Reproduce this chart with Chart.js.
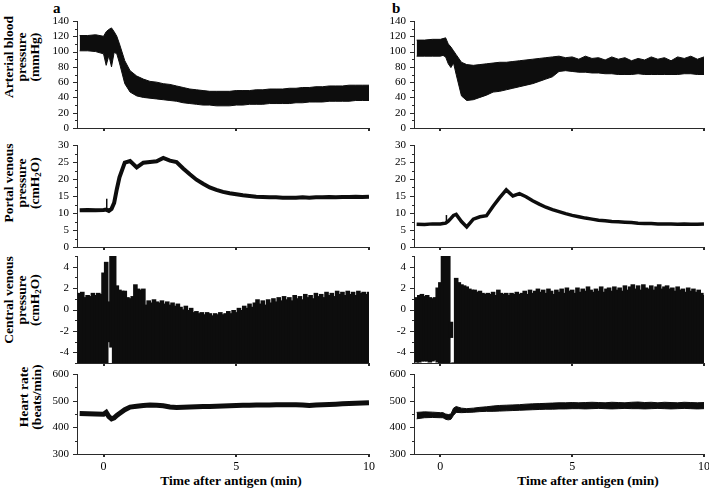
<!DOCTYPE html>
<html>
<head>
<meta charset="utf-8">
<script src="https://cdn.jsdelivr.net/npm/chart.js@4/dist/chart.umd.min.js"></script>
<style>
  html, body { margin: 0; padding: 0; background: #fff; }
  body { position: relative; width: 709px; height: 489px; overflow: hidden; font-family: "Liberation Serif", "Times New Roman", serif; color: #000; }
  canvas { position: absolute; }
  .ytitle { position: absolute; transform: translate(-50%, -50%) rotate(-90deg); text-align: center; font-weight: bold; font-size: 13.5px; line-height: 13px; white-space: nowrap; }
  .ytitle sub { font-size: 9px; line-height: 0; vertical-align: -2px; }
  .panel-label { position: absolute; font-weight: bold; font-size: 15px; line-height: 15px; }
  .xtitle { position: absolute; transform: translateX(-50%); font-weight: bold; font-size: 13.5px; white-space: nowrap; }
</style>
</head>
<body>

<div class="panel-label" style="left:53px;top:1px;">a</div>
<div class="panel-label" style="left:392px;top:1px;">b</div>

<div class="ytitle" style="left:21px;top:57px;">Arterial blood<br>pressure<br>(mmHg)</div>
<div class="ytitle" style="left:21px;top:183px;">Portal venous<br>pressure<br>(cmH<sub>2</sub>O)</div>
<div class="ytitle" style="left:21px;top:300px;">Central venous<br>pressure<br>(cmH<sub>2</sub>O)</div>
<div class="ytitle" style="left:30px;top:397px;">Heart rate<br>(beats/min)</div>

<div class="xtitle" style="left:231px;top:473px;">Time after antigen (min)</div>
<div class="xtitle" style="left:588px;top:473px;">Time after antigen (min)</div>

<script>
// --- sample times (min after antigen) ---
const tMain = [-0.9, -0.6, -0.3, 0, 0.1, 0.2, 0.3, 0.4, 0.5, 0.6, 0.8,
  1, 1.25, 1.5, 1.75, 2, 2.25, 2.5, 2.75, 3, 3.25, 3.5, 3.75, 4, 4.25, 4.5, 4.75,
  5, 5.25, 5.5, 5.75, 6, 6.25, 6.5, 6.75, 7, 7.25, 7.5, 7.75, 8, 8.25, 8.5, 8.75,
  9, 9.25, 9.5, 9.75, 10];

const tCvp = [
  -0.9, -0.8, -0.7, -0.6, -0.5, -0.4, -0.3, -0.2, -0.1, 0.0,
  0.1, 0.2, 0.3, 0.4, 0.5, 0.6, 0.7, 0.8, 0.9, 1.0,
  1.1, 1.2, 1.3, 1.4, 1.5, 1.6, 1.7, 1.8, 1.9, 2.0,
  2.1, 2.2, 2.3, 2.4, 2.5, 2.6, 2.7, 2.8, 2.9, 3.0,
  3.1, 3.2, 3.3, 3.4, 3.5, 3.6, 3.7, 3.8, 3.9, 4.0,
  4.1, 4.2, 4.3, 4.4, 4.5, 4.6, 4.7, 4.8, 4.9, 5.0,
  5.1, 5.2, 5.3, 5.4, 5.5, 5.6, 5.7, 5.8, 5.9, 6.0,
  6.1, 6.2, 6.3, 6.4, 6.5, 6.6, 6.7, 6.8, 6.9, 7.0,
  7.1, 7.2, 7.3, 7.4, 7.5, 7.6, 7.7, 7.8, 7.9, 8.0,
  8.1, 8.2, 8.3, 8.4, 8.5, 8.6, 8.7, 8.8, 8.9, 9.0,
  9.1, 9.2, 9.3, 9.4, 9.5, 9.6, 9.7, 9.8, 9.9, 10.0];

const timeTicks = [0, 5, 10];

// --- arterial blood pressure (mmHg), envelope of the pulse trace ---
const abpA_hi = [121, 121, 122, 120, 126, 129, 131, 126, 120, 110, 88,
  75, 68, 64, 61, 60, 58, 57, 55, 53, 51, 50, 49, 48, 48, 48, 48,
  49, 49, 49, 50, 50, 51, 51, 51, 52, 52, 53, 53, 54, 54, 55, 55, 55, 56, 56, 56, 56];
const abpA_lo = [101, 101, 100, 97, 82, 95, 80, 99, 97, 85, 58,
  47, 42, 40, 39, 38, 37, 36, 35, 33, 32, 31, 30, 30, 29, 29, 29,
  30, 30, 31, 31, 31, 32, 32, 32, 32, 33, 33, 34, 34, 34, 35, 35, 35, 35, 36, 36, 36];
const abpB_hi = [115, 115, 116, 116, 117, 118, 110, 106, 101, 96, 86,
  83, 82, 83, 84, 85, 86, 86, 87, 88, 89, 90, 91, 92, 93, 94, 92,
  93, 90, 94, 91, 92, 89, 93, 90, 92, 88, 91, 89, 93, 90, 92, 88, 93, 91, 94, 90, 93];
const abpB_lo = [94, 94, 94, 94, 95, 93, 84, 79, 85, 70, 42,
  36, 37, 40, 43, 47, 48, 50, 52, 54, 56, 58, 61, 64, 67, 74, 75,
  74, 73, 73, 72, 72, 71, 71, 70, 70, 70, 71, 70, 70, 70, 70, 70, 70, 71, 71, 70, 70];

// --- portal venous pressure (cmH2O) ---
const pvpA = [10.8, 10.9, 10.8, 10.9, 11.0, 10.6, 11.2, 13.0, 17.0, 20.5, 24.8,
  25.3, 23.4, 24.8, 25.0, 25.2, 26.2, 25.4, 25.0, 23.1, 21.4, 19.8, 18.6, 17.5, 16.8, 16.2, 15.8,
  15.5, 15.2, 15.0, 14.8, 14.7, 14.6, 14.6, 14.5, 14.5, 14.5, 14.6, 14.5, 14.6, 14.6, 14.7, 14.6,
  14.7, 14.7, 14.8, 14.7, 14.8];
const pvpB = [6.7, 6.6, 6.8, 6.8, 6.9, 7.0, 7.6, 8.4, 9.3, 9.6, 7.5,
  5.9, 8.2, 8.9, 9.2, 12.0, 14.5, 16.8, 15.0, 15.7, 14.8, 13.6, 12.6, 11.7, 11.0, 10.4, 9.8,
  9.3, 8.9, 8.5, 8.2, 7.9, 7.7, 7.5, 7.4, 7.3, 7.2, 7.0, 6.9, 6.9, 6.8, 6.8, 6.8,
  6.7, 6.8, 6.7, 6.7, 6.8];
const pvpSpikeA = [10.6, 14.2];
const pvpSpikeB = [6.8, 9.4];
const spikeTimes = [0.12, 0.23];

// --- central venous pressure (cmH2O), top and bottom of the filled trace ---
const cvpA_hi = [
  1.5, 1.6, 1.1, 1.3, 1.2, 1.5, 1.3, 1.5, 1.4, 3.4,
  4.4, 0.7, 5, 5, 2.2, 1.8, 1.7, 1.7, 1.1, 1.0,
  1.2, 2.3, 1.9, 1.8, 1.9, 0.4, 0.8, 0.6, 0.9, 0.7,
  0.6, 0.8, 0.5, 0.7, 0.4, 0.6, 0.3, 0.5, 0.2, 0.0,
  0.3, -0.1, 0.1, -0.3, -0.2, -0.4, -0.3, -0.5, -0.3, -0.4,
  -0.6, -0.4, -0.5, -0.3, -0.5, -0.4, -0.2, -0.4, -0.1, -0.3,
  0.1, -0.1, 0.3, 0.1, 0.5, 0.2, 0.6, 0.9, 0.5, 0.8,
  0.4, 0.9, 0.6, 1.0, 0.7, 1.1, 0.8, 1.2, 0.9, 1.1,
  0.8, 1.3, 1.0, 1.2, 0.9, 1.4, 1.1, 1.3, 1.0, 1.5,
  1.2, 1.4, 1.1, 1.6, 1.3, 1.5, 1.2, 1.7, 1.4, 1.6,
  1.3, 1.7, 1.4, 1.6, 1.3, 1.7, 1.5, 1.6, 1.4, 1.6];
const cvpA_lo = [
  -5, -5, -5, -5, -5, -5, -5, -5, -5, -5,
  -5, -3.0, -3.5, -5, -5, -5, -5, -5, -5, -5,
  -5, -5, -5, -5, -5, -5, -5, -5, -5, -5,
  -5, -5, -5, -5, -5, -5, -5, -5, -5, -5,
  -5, -5, -5, -5, -5, -5, -5, -5, -5, -5,
  -5, -5, -5, -5, -5, -5, -5, -5, -5, -5,
  -5, -5, -5, -5, -5, -5, -5, -5, -5, -5,
  -5, -5, -5, -5, -5, -5, -5, -5, -5, -5,
  -5, -5, -5, -5, -5, -5, -5, -5, -5, -5,
  -5, -5, -5, -5, -5, -5, -5, -5, -5, -5,
  -5, -5, -5, -5, -5, -5, -5, -5, -5, -5];
const cvpB_hi = [
  1.1, 1.3, 1.4, 1.2, 1.3, 1.1, 1.0, 1.1, 2.0, 2.5,
  5, 5, 5, -1.2, -5, 2.9, 2.5, 2.3, 2.2, 2.1,
  1.9, 1.8, 1.8, 1.6, 1.7, 1.5, 1.4, 1.5, 1.4, 1.6,
  1.3, 1.8, 1.5, 1.4, 1.5, 1.3, 1.5, 1.4, 1.6, 1.4,
  1.5, 1.7, 1.4, 1.8, 1.5, 1.7, 1.9, 1.6, 1.8, 1.5,
  1.9, 1.7, 1.4, 1.8, 1.6, 1.9, 1.5, 2.0, 1.7, 1.8,
  1.5, 2.0, 1.6, 1.9, 1.7, 2.1, 1.8, 1.6, 1.9, 1.7,
  2.1, 1.6, 1.9, 2.0, 1.7, 2.1, 1.8, 2.0, 1.7, 2.2,
  1.8, 2.1, 2.3, 1.9, 2.2, 1.8, 2.3, 2.0, 1.9, 2.2,
  1.8, 2.1, 2.3, 1.9, 2.1, 2.2, 1.9, 2.0, 1.7, 2.1,
  1.8, 1.9, 1.6, 2.0, 1.7, 1.9, 1.6, 1.8, 1.5, 1.3];
const cvpB_lo = [
  -4.9, -4.9, -4.8, -4.8, -4.8, -4.9, -4.8, -4.7, -4.9, -5,
  -5, -5, -5, -2.6, -5, -5, -5, -5, -5, -5,
  -5, -5, -5, -5, -5, -5, -5, -5, -5, -5,
  -5, -5, -5, -5, -5, -5, -5, -5, -5, -5,
  -5, -5, -5, -5, -5, -5, -5, -5, -5, -5,
  -5, -5, -5, -5, -5, -5, -5, -5, -5, -5,
  -5, -5, -5, -5, -5, -5, -5, -5, -5, -5,
  -5, -5, -5, -5, -5, -5, -5, -5, -5, -5,
  -5, -5, -5, -5, -5, -5, -5, -5, -5, -5,
  -5, -5, -5, -5, -5, -5, -5, -5, -5, -5,
  -5, -5, -5, -5, -5, -5, -5, -5, -5, -5];

// --- heart rate (beats/min) ---
const hrA = [452, 451, 450, 449, 456, 440, 432, 436, 445, 452, 466,
  476, 479, 482, 484, 483, 481, 476, 474, 475, 476, 477, 478, 478, 479, 480, 481,
  482, 483, 483, 484, 484, 484, 485, 485, 485, 485, 484, 482, 484, 485, 486, 487,
  488, 489, 490, 491, 492];
const hrB_hi = [456, 458, 457, 455, 455, 450, 448, 450, 472, 478, 472,
  470, 472, 475, 477, 480, 482, 483, 484, 485, 487, 488, 489, 490, 491, 492, 492,
  493, 492, 493, 494, 493, 492, 494, 493, 492, 494, 495, 493, 494, 492, 494, 493,
  492, 494, 493, 492, 493];
const hrB_lo = [432, 436, 437, 436, 436, 430, 428, 430, 445, 456, 455,
  456, 457, 459, 460, 460, 461, 462, 463, 464, 465, 466, 467, 468, 468, 469, 469,
  470, 470, 469, 470, 471, 470, 469, 470, 471, 470, 470, 469, 470, 471, 470, 469,
  470, 471, 470, 469, 470];

// --- axis settings per row ---
const rowTop = [21, 145, 256, 374];
const rowBottom = [128, 247, 363, 454];
const yMin = [0, 0, -5, 300];
const yMax = [140, 30, 5, 600];
const yStep = [10, 2.5, 1, 50];
const yMajor = [20, 5, 2, 100];

const colLeft = [40, 377];
const colWidth = [338, 333];
const colPadRight = [9, 6];

const SERIF = '"Liberation Serif", "Times New Roman", serif';
const INK = '#0d0d0d';
const AXIS = '#2a2a2a';
const CLEAR = 'rgba(0,0,0,0)';

function pts(ts, vs) {
    return ts.map((t, i) => ({ x: t, y: vs[i] }));
}

function band(ts, hi, lo) {
    return [
        { data: pts(ts, hi), fill: '+1', backgroundColor: INK, borderColor: INK, borderWidth: 1, pointRadius: 0 },
        { data: pts(ts, lo), fill: false, borderColor: INK, borderWidth: 1, pointRadius: 0 }
    ];
}

// floating bars, one per sample, for the saturated CVP trace
function bars(ts, hi, lo) {
    return [{
        type: 'bar',
        data: ts.map((t, i) => ({ x: t, y: [lo[i], hi[i]] })),
        backgroundColor: INK,
        borderColor: INK,
        borderWidth: 0,
        barThickness: 3.4,
        inflateAmount: 0.6,
        grouped: false
    }];
}

function trace(ts, vs, width) {
    return { data: pts(ts, vs), fill: false, borderColor: INK, borderWidth: width, pointRadius: 0 };
}

function spike(t, vs) {
    return { data: vs.map(v => ({ x: t, y: v })), fill: false, borderColor: INK, borderWidth: 1.5, pointRadius: 0 };
}

// small outside tick marks: long for labelled values, short for the ones between
const tickMarks = {
    id: 'tickMarks',
    afterDraw(chart) {
        const { ctx, chartArea } = chart;
        const xs = chart.scales.x, ys = chart.scales.y;
        ctx.save();
        ctx.strokeStyle = AXIS;
        ctx.lineWidth = 1;
        ctx.beginPath();
        ys.ticks.forEach(t => {
            const py = Math.round(ys.getPixelForValue(t.value)) + 0.5;
            const len = t.label !== '' ? 4 : 2;
            ctx.moveTo(chartArea.left, py);
            ctx.lineTo(chartArea.left - len, py);
        });
        ctx.stroke();
        ctx.lineWidth = 2;
        ctx.beginPath();
        xs.ticks.forEach(t => {
            const px = Math.round(xs.getPixelForValue(t.value));
            ctx.moveTo(px, chartArea.bottom);
            ctx.lineTo(px, chartArea.bottom + 3);
        });
        ctx.stroke();
        ctx.restore();
    }
};

function makePanel(c, r, datasets) {
    const last = r === 3;
    const padTop = 8;
    const padBottom = last ? 0 : 7;
    const xHeight = last ? 22 : 0;
    const canvas = document.createElement('canvas');
    canvas.width = colWidth[c];
    canvas.height = padTop + (rowBottom[r] - rowTop[r]) + padBottom + xHeight;
    canvas.style.left = colLeft[c] + 'px';
    canvas.style.top = (rowTop[r] - padTop) + 'px';
    document.body.appendChild(canvas);

    new Chart(canvas, {
        type: 'line',
        data: { datasets: datasets },
        options: {
            responsive: false,
            animation: false,
            devicePixelRatio: 1,
            layout: { padding: { left: 0, right: colPadRight[c], top: padTop, bottom: padBottom } },
            plugins: { legend: { display: false }, tooltip: { enabled: false } },
            scales: {
                x: {
                    type: 'linear',
                    min: -1,
                    max: 10,
                    offset: false,
                    afterBuildTicks: s => { s.ticks = timeTicks.map(v => ({ value: v })); },
                    afterFit: s => { s.height = xHeight; },
                    grid: { display: true, drawOnChartArea: false, drawTicks: true, tickLength: 6, color: CLEAR },
                    border: { display: true, color: AXIS, width: 1 },
                    ticks: { display: last, padding: 0, color: '#000', font: { family: SERIF, size: 12 } }
                },
                y: {
                    min: yMin[r],
                    max: yMax[r],
                    afterFit: s => { s.width = 37; },
                    grid: { display: true, drawOnChartArea: false, drawTicks: true, tickLength: 8, color: CLEAR },
                    border: { display: true, color: AXIS, width: 1 },
                    ticks: {
                        stepSize: yStep[r],
                        autoSkip: false,
                        padding: 0,
                        color: '#000',
                        font: { family: SERIF, size: 11 },
                        callback: v => (Math.abs(v % yMajor[r]) < 1e-6 ? String(v) : '')
                    }
                }
            }
        },
        plugins: [tickMarks]
    });
}

// column a
makePanel(0, 0, band(tMain, abpA_hi, abpA_lo));
makePanel(0, 1, [trace(tMain, pvpA, 4), spike(spikeTimes[0], pvpSpikeA)]);
makePanel(0, 2, bars(tCvp, cvpA_hi, cvpA_lo));
makePanel(0, 3, [trace(tMain, hrA, 5)]);

// column b
makePanel(1, 0, band(tMain, abpB_hi, abpB_lo));
makePanel(1, 1, [trace(tMain, pvpB, 3.5), spike(spikeTimes[1], pvpSpikeB)]);
makePanel(1, 2, bars(tCvp, cvpB_hi, cvpB_lo));
makePanel(1, 3, band(tMain, hrB_hi, hrB_lo));
</script>
</body>
</html>
